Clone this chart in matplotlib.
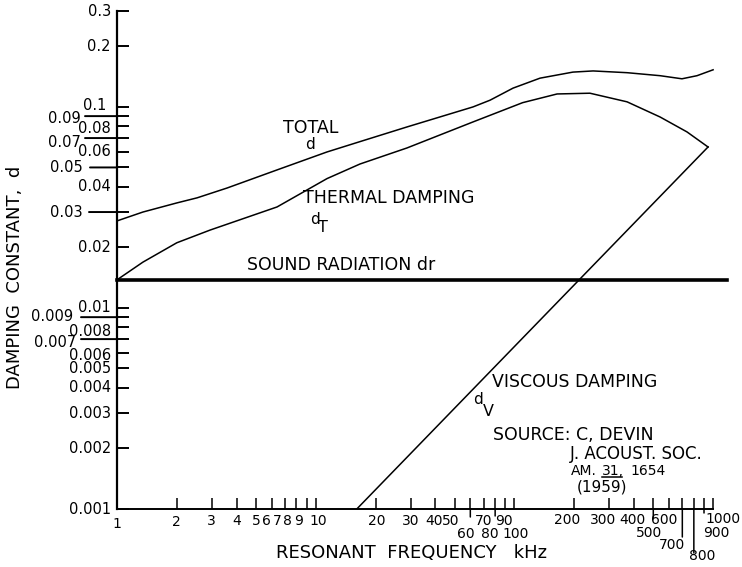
#!/usr/bin/python3
# damping constant vs resonant frequency (log-log), redrawn from scan
import matplotlib
matplotlib.use('Agg')
import matplotlib.pyplot as plt
from matplotlib.lines import Line2D
from matplotlib.transforms import IdentityTransform
from matplotlib.ticker import FixedLocator, NullLocator, NullFormatter

# curves (kHz, damping constant)
freq_total = [1, 1.35, 2.0, 2.53, 3.58, 6.39, 11.4, 16.7, 28.8, 61.9, 75.4, 98.4,
              134.5, 197, 249, 369, 541, 697, 830, 1000]
d_total = [0.0271, 0.0300, 0.0333, 0.0353, 0.0395, 0.0486, 0.0597, 0.0672, 0.0795,
           0.100, 0.108, 0.124, 0.139, 0.149, 0.151, 0.148, 0.143, 0.138, 0.143, 0.153]

freq_thermal = [1, 1.35, 2.0, 2.94, 6.39, 11.4, 16.7, 28.8, 61.9, 110, 164, 240,
                369, 541, 739, 943]
d_thermal = [0.0138, 0.0169, 0.0211, 0.0244, 0.0318, 0.0440, 0.0520, 0.0625, 0.0842,
             0.105, 0.116, 0.117, 0.106, 0.0891, 0.0751, 0.0632]

freq_viscous = [16.1, 943]
d_viscous = [0.001, 0.0632]

freq_radiation = [1, 1170]
d_radiation = [0.0138, 0.0138]

# tick values and labels
x_ticks = [1, 2, 3, 4, 5, 6, 7, 8, 9, 10, 20, 30, 40, 50, 60, 70, 80, 90, 100,
           200, 300, 400, 500, 600, 700, 800, 900, 1000]
x_labels = ['1', '2', '3', '4', '5', '6', '7', '8', '9', '10', '20', '30', '40', '50',
            '60', '70', '80', '90', '100', '200', '300', '400', '500', '600', '700',
            '800', '900', '1000']
y_ticks = [0.3, 0.2, 0.1, 0.09, 0.08, 0.07, 0.06, 0.05, 0.04, 0.03, 0.02, 0.01,
           0.009, 0.008, 0.007, 0.006, 0.005, 0.004, 0.003, 0.002, 0.001]
y_labels = ['0.3', '0.2', '0.1', '0.09', '0.08', '0.07', '0.06', '0.05', '0.04',
            '0.03', '0.02', '0.01', '0.009', '0.008', '0.007', '0.006', '0.005',
            '0.004', '0.003', '0.002', '0.001']

PT = 0.72  # points per pixel at dpi 100
FONT = 'DejaVu Sans'

fig = plt.figure(figsize=(7.42, 5.67), dpi=100)
ax = fig.add_axes([117 / 742, 58 / 567, 625 / 742, 498 / 567])
ax.set_xscale('log')
ax.set_yscale('log')
ax.set_xlim(1, 10 ** (625 / 198.7))
ax.set_ylim(0.001, 0.3)

for s in ['top', 'right']:
    ax.spines[s].set_visible(False)
ax.spines['bottom'].set_bounds(1, 1000)
ax.spines['left'].set_bounds(0.001, 0.3)
ax.spines['bottom'].set_linewidth(1.4)
ax.spines['left'].set_linewidth(1.6)

ax.xaxis.set_major_locator(FixedLocator(x_ticks))
ax.yaxis.set_major_locator(FixedLocator(y_ticks))
ax.xaxis.set_minor_locator(NullLocator())
ax.yaxis.set_minor_locator(NullLocator())
ax.xaxis.set_major_formatter(NullFormatter())
ax.yaxis.set_major_formatter(NullFormatter())
ax.tick_params(axis='x', direction='in', length=11 * PT, width=1.1)
ax.tick_params(axis='y', direction='in', length=12 * PT, width=1.4)

# curves
ax.plot(freq_total, d_total, color='black', lw=1.1, solid_joinstyle='round')
ax.plot(freq_thermal, d_thermal, color='black', lw=1.1, solid_joinstyle='round')
ax.plot(freq_viscous, d_viscous, color='black', lw=1.1)
ax.plot(freq_radiation, d_radiation, color='black', lw=2.6, clip_on=False)

# tick labels, hand lettered offsets (px: dx from tick, dy below axis)
x_off = {1: (0, 15), 2: (0, 13), 3: (0, 12), 4: (0, 12), 5: (0, 12), 6: (-5, 12),
         7: (-8, 12), 8: (-9, 12), 9: (-8, 12), 10: (3, 12), 20: (1, 12),
         30: (0, 12), 40: (-1, 12), 50: (-4, 12), 60: (-5, 25), 70: (0, 12),
         80: (-5, 25), 90: (-1, 12), 100: (1, 25), 200: (-7, 11), 300: (-6, 11),
         400: (-2, 11), 500: (-4, 24), 600: (-5, 11), 700: (-10, 36),
         800: (8, 47), 900: (12, 24), 1000: (10, 10)}
for v, lab in zip(x_ticks, x_labels):
    dx, dy = x_off[v]
    ax.annotate(lab, xy=(v, 0), xycoords=('data', 'axes fraction'),
                xytext=(dx * PT, -dy * PT), textcoords='offset points',
                ha='center', va='center', fontsize=10, family=FONT)

y_off = {0.1: (-11, -1), 0.09: (-36, 2), 0.08: (-6, 2), 0.07: (-36, 4),
         0.05: (-34, 0), 0.03: (-34, 0), 0.009: (-44, -1), 0.008: (-6, 4),
         0.007: (-41, 3), 0.006: (-6, 3)}
for v, lab in zip(y_ticks, y_labels):
    dx, dy = y_off.get(v, (-6, 0))
    ax.annotate(lab, xy=(0, v), xycoords=('axes fraction', 'data'),
                xytext=(dx * PT, -dy * PT), textcoords='offset points',
                ha='right', va='center', fontsize=10.5, family=FONT)

# long ticks crossing the axes
y_long = {0.09: 32, 0.07: 32, 0.05: 27, 0.03: 28, 0.009: 36, 0.007: 36}
for v, L in y_long.items():
    ax.annotate('', xy=(0, v), xycoords=('axes fraction', 'data'),
                xytext=(-L * PT, 0), textcoords='offset points',
                arrowprops=dict(arrowstyle='-', lw=1.4, shrinkA=0, shrinkB=0))
x_long = {60: 8, 80: 7, 500: 9, 700: 28, 800: 44, 900: 4}
for v, L in x_long.items():
    ax.annotate('', xy=(v, 0), xycoords=('data', 'axes fraction'),
                xytext=(0, -L * PT), textcoords='offset points',
                arrowprops=dict(arrowstyle='-', lw=1.1, shrinkA=0, shrinkB=0))

# curve labels
kw = dict(fontsize=12.5, family=FONT, va='center', ha='left')
ax.text(6.85, 0.0787, 'TOTAL', **kw)
ax.text(8.84, 0.0647, 'd', fontsize=11, family=FONT, va='center')
ax.text(8.63, 0.0353, 'THERMAL DAMPING', **kw)
ax.text(9.36, 0.0277, 'd', fontsize=11, family=FONT, va='center')
ax.text(10.27, 0.0250, 'T', fontsize=11.5, family=FONT, va='center')
ax.text(4.51, 0.01637, 'SOUND RADIATION dr', **kw)
ax.text(77.1, 0.00428, 'VISCOUS DAMPING', **kw)
ax.text(61.9, 0.00349, 'd', fontsize=11, family=FONT, va='center')
ax.text(69.5, 0.00304, 'V', fontsize=11.5, family=FONT, va='center')
ax.text(78.0, 0.00233, 'SOURCE: C, DEVIN', **kw)
ax.text(190.5, 0.00188, 'J. ACOUST. SOC.', fontsize=12, family=FONT, va='center')
t1 = ax.text(192.7, 0.00147, 'AM.', fontsize=10, family=FONT, va='baseline')
t2 = ax.annotate('31,', xy=(1, 0), xycoords=t1, xytext=(4, 0),
                 textcoords='offset points', va='bottom', ha='left',
                 fontsize=10, family=FONT)
ax.annotate('1654', xy=(1, 0), xycoords=t2, xytext=(4, 0),
            textcoords='offset points', va='bottom', ha='left',
            fontsize=10, family=FONT)
ax.text(206.5, 0.00129, '(1959)', fontsize=11, family=FONT, va='center')

# axis titles
fig.text(411 / 742, 1 - 553 / 567, 'RESONANT  FREQUENCY   kHz', ha='center',
         va='center', fontsize=13, family=FONT)
fig.text(15 / 742, 1 - 277 / 567, 'DAMPING  CONSTANT,  d', ha='center',
         va='center', rotation=90, fontsize=13, family=FONT)

# underline under "31,"
fig.canvas.draw()
bb = t2.get_window_extent()
fig.add_artist(Line2D([bb.x0, bb.x1 - 2], [bb.y0 + 1, bb.y0 + 1], lw=1.1,
                      color='black', transform=IdentityTransform()))

fig.savefig('out.png', dpi=100)
